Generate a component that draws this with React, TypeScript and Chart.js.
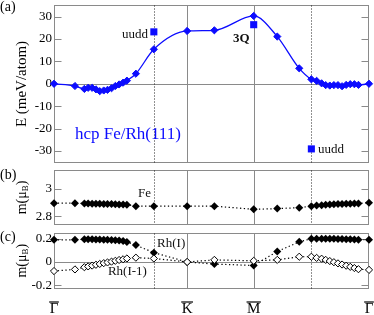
import React, { useEffect, useRef } from 'react';
import { Chart, registerables } from 'chart.js';
Chart.register(...registerables);

const FONT = "'Liberation Serif', 'Times New Roman', 'DejaVu Serif', serif";
Chart.defaults.font.family = FONT;
Chart.defaults.color = '#000';

// High-symmetry path (units of 2π/a): Γ → K → M → Γ
const G0 = 0;
const K = 2 / 3;
const M = 1;
const G1 = 1 + 1 / Math.sqrt(3);
const symPoints = [G0, K, M, G1];
const symLabels = ['Γ', 'K', 'M', 'Γ'];
const solidLines = [K, M];
const dottedLines = [0.5, 1 + 0.5 / Math.sqrt(3)];

const qPath = [
  0, 0.105, 0.152, 0.171, 0.191, 0.21, 0.229, 0.249, 0.268, 0.288, 0.307, 0.326, 0.346, 0.365, 0.41, 0.5, 0.6667,
  0.803, 1.0,
  1.118, 1.228, 1.2887, 1.315, 1.34, 1.3605, 1.381, 1.4015, 1.422, 1.4425, 1.463, 1.4835, 1.504, 1.5245, 1.5774,
];
const energy = [
  0, -1.0, -2.3, -1.8, -1.8, -2.5, -3.3, -3.0, -2.7, -2.0, -1.0, -0.3, 0.5, 1.4, 4.5, 15.4, 23.6,
  23.9, 30.3,
  21.1, 6.9, 2.0, 1.3, 0.2, -0.6, -0.8, -0.6, -0.6, -1.1, -0.5, -0.2, -0.2, -0.5, 0,
];
const specialQ = [0.5, 1.0, 1.2887];
const specialE = [23.2, 26.4, -29.1];

const momentFe = [
  2.895, 2.895, 2.893, 2.892, 2.891, 2.891, 2.89, 2.889, 2.889, 2.888, 2.887, 2.886, 2.885, 2.884, 2.873, 2.873, 2.873,
  2.873, 2.85,
  2.855, 2.862, 2.873, 2.877, 2.88, 2.883, 2.885, 2.887, 2.888, 2.889, 2.89, 2.891, 2.892, 2.893, 2.898,
];
const momentRhI = [
  0.19, 0.19, 0.195, 0.195, 0.195, 0.194, 0.193, 0.192, 0.19, 0.189, 0.187, 0.184, 0.18, 0.172, 0.145, 0.08, 0.0,
  -0.018, -0.03,
  0.09, 0.173, 0.2, 0.2, 0.2, 0.2, 0.199, 0.199, 0.198, 0.197, 0.196, 0.195, 0.194, 0.192, 0.19,
];
const momentRhI1 = [
  -0.078, -0.064, -0.045, -0.038, -0.031, -0.024, -0.017, -0.01, -0.004, 0.003, 0.01, 0.017, 0.023, 0.03, 0.037, 0.03, 0.0,
  0.018, 0.01,
  0.018, 0.045, 0.045, 0.035, 0.028, 0.018, 0.008, -0.002, -0.012, -0.022, -0.032, -0.042, -0.052, -0.062, -0.068,
];

const BLUE = 'rgb(12,12,255)';
const GREY = '#8a8a8a';

const pts = (xs: number[], ys: number[]) => xs.map((x, i) => ({ x, y: ys[i] }));

function yScale(min: number, max: number, step: number, extra: any = {}) {
  return {
    type: 'linear',
    position: 'left',
    min,
    max,
    grid: { display: false, drawTicks: false },
    border: { display: false },
    ticks: {
      stepSize: step,
      includeBounds: false,
      padding: 2,
      font: { size: 13 },
      color: '#000',
      callback: (v: number) => String(Number(v.toFixed(2))),
    },
    afterFit(s: any) {
      s.width = 54;
      s.paddingTop = 0;
      s.paddingBottom = 0;
    },
    ...extra,
  };
}

const hiddenX = { type: 'linear', min: 0, max: G1, display: false };

function makeDecor(o: any) {
  return {
    id: 'decor',
    beforeDatasetsDraw(chart: any) {
      const { ctx, chartArea: a, scales } = chart;
      const x = scales.x;
      const y = scales.y;
      ctx.save();
      ctx.lineWidth = 1;
      ctx.strokeStyle = GREY;
      const L = Math.round(a.left) + 0.5;
      const R = Math.round(a.right) - 0.5;
      const T = Math.round(a.top) + 0.5;
      const B = Math.round(a.bottom) - 0.5;
      if (o.zero) {
        const py = Math.round(y.getPixelForValue(0)) + 0.5;
        ctx.beginPath();
        ctx.moveTo(L, py);
        ctx.lineTo(R, py);
        ctx.stroke();
      }
      solidLines.forEach((q) => {
        const px = Math.round(x.getPixelForValue(q)) + 0.5;
        ctx.beginPath();
        ctx.moveTo(px, T);
        ctx.lineTo(px, B);
        ctx.stroke();
      });
      // inner tick marks
      y.ticks.forEach((t: any) => {
        const py = Math.round(y.getPixelForValue(t.value)) + 0.5;
        ctx.beginPath();
        ctx.moveTo(L, py);
        ctx.lineTo(L + 7, py);
        ctx.moveTo(R, py);
        ctx.lineTo(R - 7, py);
        ctx.stroke();
      });
      ctx.strokeRect(L, T, R - L, B - T);
      ctx.strokeStyle = '#222';
      ctx.setLineDash([1, 2]);
      dottedLines.forEach((q) => {
        const px = Math.round(x.getPixelForValue(q)) + 0.5;
        ctx.beginPath();
        ctx.moveTo(px, T);
        ctx.lineTo(px, B);
        ctx.stroke();
      });
      ctx.restore();
    },
    afterDraw(chart: any) {
      const { ctx, chartArea: a, scales } = chart;
      const x = scales.x;
      const y = scales.y;
      ctx.save();
      ctx.textBaseline = 'middle';
      (o.texts || []).forEach((t: any) => {
        ctx.font = `${t.bold ? 'bold ' : ''}${t.size || 13}px ${FONT}`;
        ctx.fillStyle = t.color || '#111';
        ctx.textAlign = t.align || 'left';
        ctx.fillText(t.text, x.getPixelForValue(t.q), y.getPixelForValue(t.v));
      });
      if (o.panel) {
        ctx.font = `14px ${FONT}`;
        ctx.fillStyle = '#000';
        ctx.textAlign = 'left';
        ctx.fillText(o.panel.text, 0, o.panel.y);
      }
      if (o.title) {
        const cy = (a.top + a.bottom) / 2;
        ctx.translate(22, cy);
        ctx.rotate(-Math.PI / 2);
        ctx.fillStyle = '#000';
        ctx.textAlign = 'left';
        const f1 = `14px ${FONT}`;
        const f2 = `9px ${FONT}`;
        ctx.font = f1;
        const w1 = ctx.measureText(o.title[0]).width;
        const w3 = ctx.measureText(o.title[2]).width;
        ctx.font = f2;
        const w2 = ctx.measureText(o.title[1]).width;
        let sx = -(w1 + w2 + w3) / 2;
        ctx.font = f1;
        ctx.fillText(o.title[0], sx, 0);
        sx += w1;
        ctx.font = f2;
        ctx.fillText(o.title[1], sx, 4);
        sx += w2;
        ctx.font = f1;
        ctx.fillText(o.title[2], sx, 0);
        ctx.setTransform(1, 0, 0, 1, 0, 0);
      }
      if (o.overline) {
        ctx.font = `15px ${FONT}`;
        ctx.strokeStyle = '#000';
        ctx.lineWidth = 1.2;
        const oy = a.bottom + 13.5;
        symPoints.forEach((q, i) => {
          const px = x.getPixelForValue(q);
          const w = ctx.measureText(symLabels[i]).width;
          ctx.beginPath();
          ctx.moveTo(px - w / 2 - 0.5, oy);
          ctx.lineTo(px + w / 2 + 0.5, oy);
          ctx.stroke();
        });
      }
      ctx.restore();
    },
  };
}

function buildA(canvas: HTMLCanvasElement) {
  return new Chart(canvas, {
    type: 'line',
    data: {
      datasets: [
        {
          data: pts(qPath, energy),
          borderColor: BLUE,
          backgroundColor: BLUE,
          borderWidth: 1.3,
          pointStyle: 'rectRot',
          pointRadius: 3.6,
          pointBorderWidth: 1,
          pointBorderColor: BLUE,
          cubicInterpolationMode: 'monotone',
          tension: 0.4,
          clip: false,
        },
        {
          data: pts(specialQ, specialE),
          showLine: false,
          pointStyle: 'rect',
          pointRadius: 5,
          pointBorderWidth: 0,
          backgroundColor: BLUE,
          borderColor: BLUE,
          clip: false,
        },
      ],
    },
    options: {
      responsive: false,
      animation: false,
      layout: { padding: { left: 0, right: 5, top: 0, bottom: 1.5 } },
      plugins: { legend: { display: false }, tooltip: { enabled: false } },
      scales: {
        x: hiddenX,
        y: yScale(-35.4, 35.2, 10, {
          title: { display: true, text: 'E (meV/atom)', font: { size: 15 }, color: '#000', padding: { top: 13, bottom: 0 } },
        }),
      } as any,
    },
    plugins: [
      makeDecor({
        zero: true,
        panel: { text: '(a)', y: 7 },
        texts: [
          { text: 'uudd', q: 0.471, v: 21.8, align: 'right' },
          { text: '3Q', q: 0.896, v: 20.2, bold: true },
          { text: 'uudd', q: 1.322, v: -29.5 },
          { text: 'hcp Fe/Rh(111)', q: 0.105, v: -22.5, size: 17, color: BLUE },
        ],
      }),
    ],
  } as any);
}

function buildB(canvas: HTMLCanvasElement) {
  return new Chart(canvas, {
    type: 'line',
    data: {
      datasets: [
        {
          data: pts(qPath, momentFe),
          borderColor: '#000',
          backgroundColor: '#000',
          borderWidth: 1.2,
          borderDash: [1.3, 2.5],
          pointStyle: 'rectRot',
          pointRadius: 4,
          pointBorderWidth: 0,
          tension: 0,
          clip: false,
        },
      ],
    },
    options: {
      responsive: false,
      animation: false,
      layout: { padding: { left: 0, right: 5, top: 2.3, bottom: 2.3 } },
      plugins: { legend: { display: false }, tooltip: { enabled: false } },
      scales: { x: hiddenX, y: yScale(2.735, 3.138, 0.2) } as any,
    },
    plugins: [
      makeDecor({
        panel: { text: '(b)', y: 9 },
        title: ['m(μ', 'B', ')'],
        texts: [{ text: 'Fe', q: 0.421, v: 2.964 }],
      }),
    ],
  } as any);
}

function buildC(canvas: HTMLCanvasElement) {
  return new Chart(canvas, {
    type: 'line',
    data: {
      datasets: [
        {
          data: pts(qPath, momentRhI1),
          borderColor: '#000',
          backgroundColor: '#fff',
          borderWidth: 1.2,
          borderDash: [1.3, 2.5],
          pointStyle: 'rectRot',
          pointRadius: 3.6,
          pointBorderWidth: 1,
          pointBorderColor: '#000',
          tension: 0,
          clip: false,
        },
        {
          data: pts(qPath, momentRhI),
          borderColor: '#000',
          backgroundColor: '#000',
          borderWidth: 1.2,
          borderDash: [1.3, 2.5],
          pointStyle: 'rectRot',
          pointRadius: 4,
          pointBorderWidth: 0,
          tension: 0,
          clip: false,
        },
      ],
    },
    options: {
      responsive: false,
      animation: false,
      layout: { padding: { left: 0, right: 5, top: 2, bottom: 0 } },
      plugins: { legend: { display: false }, tooltip: { enabled: false } },
      scales: {
        x: {
          type: 'linear',
          min: 0,
          max: G1,
          position: 'bottom',
          grid: { display: false, drawTicks: false },
          border: { display: false },
          afterBuildTicks(s: any) {
            s.ticks = symPoints.map((v) => ({ value: v }));
          },
          ticks: {
            autoSkip: false,
            maxRotation: 0,
            padding: 12,
            font: { size: 15 },
            color: '#000',
            callback: (_v: any, i: number) => symLabels[i],
          },
          afterFit(s: any) {
            s.height = 26.5;
            s.paddingLeft = 0;
            s.paddingRight = 0;
          },
        },
        y: yScale(-0.228, 0.249, 0.2),
      } as any,
    },
    plugins: [
      makeDecor({
        zero: true,
        overline: true,
        panel: { text: '(c)', y: 9 },
        title: ['m(μ', 'B', ')'],
        texts: [
          { text: 'Rh(I)', q: 0.516, v: 0.159 },
          { text: 'Rh(I-1)', q: 0.27, v: -0.086 },
        ],
      }),
    ],
  } as any);
}

function Panel({ top, height, build }: { top: number; height: number; build: (c: HTMLCanvasElement) => Chart }) {
  const ref = useRef<HTMLCanvasElement>(null);
  useEffect(() => {
    const chart = build(ref.current as HTMLCanvasElement);
    return () => chart.destroy();
  }, []);
  return (
    <canvas
      ref={ref}
      width={374}
      height={height}
      style={{ position: 'absolute', left: 0, top, width: 374, height }}
    />
  );
}

export default function App() {
  return (
    <div style={{ position: 'fixed', left: 0, top: 0, width: 374, height: 315, background: '#fff', overflow: 'hidden' }}>
      <Panel top={0} height={168} build={buildA} />
      <Panel top={166} height={63} build={buildB} />
      <Panel top={228} height={87} build={buildC} />
    </div>
  );
}
